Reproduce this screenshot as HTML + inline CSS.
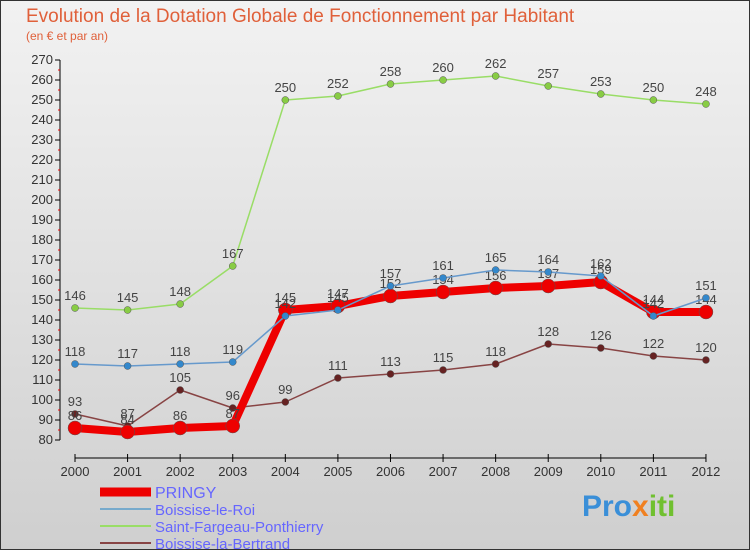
<!DOCTYPE html>
<html><head><meta charset="utf-8"><style>
body{margin:0;width:750px;height:550px;overflow:hidden;font-family:"Liberation Sans",sans-serif}
svg text{font-family:"Liberation Sans",sans-serif}
</style></head><body>
<svg id="c" width="750" height="550" xmlns="http://www.w3.org/2000/svg">
<defs><linearGradient id="bg" x1="0" y1="0" x2="0" y2="1"><stop offset="0" stop-color="#f2f2f2"/><stop offset="1" stop-color="#cfcfcf"/></linearGradient></defs>
<rect x="0.5" y="0.5" width="749" height="549" fill="url(#bg)" stroke="#333"/>
<text x="26" y="22" font-size="19" fill="#e0603a">Evolution de la Dotation Globale de Fonctionnement par Habitant</text>
<text x="26" y="40" font-size="12" fill="#e0603a">(en € et par an)</text>
<g id="axes"></g><g id="series"></g><g id="legend"></g>
<text x="582" y="516" font-size="30" font-weight="bold" fill="#3a8fd8">Pro<tspan fill="#f08020">x</tspan><tspan fill="#70c030">iti</tspan></text>
</svg>
<script>
const years=["2000","2001","2002","2003","2004","2005","2006","2007","2008","2009","2010","2011","2012"];
const pringy=[86,84,86,87,145,147,152,154,156,157,159,144,144];
const roi=[118,117,118,119,142,145,157,161,165,164,162,142,151];
const fargeau=[146,145,148,167,250,252,258,260,262,257,253,250,248];
const bertrand=[93,87,105,96,99,111,113,115,118,128,126,122,120];
const yTicks=[80,90,100,110,120,130,140,150,160,170,180,190,200,210,220,230,240,250,260,270];
const NS="http://www.w3.org/2000/svg";
const X=i=>75+i*52.58, Y=v=>440-(v-80)*2;
function mk(tag,attrs,parent){const e=document.createElementNS(NS,tag);for(const k in attrs)e.setAttribute(k,attrs[k]);parent.appendChild(e);return e;}
const ax=document.getElementById('axes');
let a=mk('line',{x1:60,y1:Y(80),x2:60,y2:Y(270),stroke:'#000'},ax);


a=mk('line',{x1:X(0),y1:458,x2:X(12),y2:458,stroke:'#000'},ax);


yTicks.forEach((v,k)=>{
 mk('line',{x1:55,x2:60,y1:Y(v),y2:Y(v),stroke:'#000'},ax);
 if(k<yTicks.length-1) mk('line',{x1:58,x2:60,y1:Y(v+5),y2:Y(v+5),stroke:'#e00'},ax);
 const t=mk('text',{x:53,y:Y(v)+4,'font-size':13,'text-anchor':'end',fill:'#333'},ax);t.textContent=v;
 
 
});
years.forEach((y,i)=>{
 mk('line',{x1:X(i),x2:X(i),y1:454,y2:462,stroke:'#000'},ax);
 const t=mk('text',{x:X(i),y:476,'font-size':13,'text-anchor':'middle',fill:'#333'},ax);t.textContent=y;
 
 
});
const sg=document.getElementById('series');
function series(data,color,w,r,dot,name){
 const g=mk('g',{},sg);
 
 
 mk('polyline',{points:data.map((v,i)=>X(i)+','+Y(v)).join(' '),fill:'none',stroke:color,'stroke-width':w,'stroke-linejoin':'round'},g);
 data.forEach((v,i)=>{
  const c=mk('circle',{cx:X(i),cy:Y(v),r:r,fill:dot,stroke:'#555','stroke-width':0.5},g);
  
  
  const t=mk('text',{x:X(i),y:Y(v)-8,'font-size':13,'text-anchor':'middle',fill:'#444'},g);t.textContent=v;
  
  
 });
}
series(fargeau,'#99dd66',1.5,3.5,'#88cc44','saint-fargeau-series');
series(bertrand,'#884444',1.5,3.5,'#662222','bertrand-series');
series(pringy,'#ee0000',8,7,'#ee0000','pringy-series');
series(roi,'#6699cc',1.5,3.5,'#3388cc','boissise-roi-series');
const lg=document.getElementById('legend');
[['PRINGY','#ee0000',9],['Boissise-le-Roi','#77aacc',2],['Saint-Fargeau-Ponthierry','#99dd66',2],['Boissise-la-Bertrand','#884444',2]].forEach((d,i)=>{
 const y=492+i*17;
 const g=mk('g',{},lg);
 
 
 mk('line',{x1:100,x2:151,y1:y,y2:y,stroke:d[1],'stroke-width':d[2]},g);
 const t=mk('text',{x:155,y:y+6,'font-size':i==0?16:15,fill:'#6666ff'},g);t.textContent=d[0];
});
</script>
</body></html>
